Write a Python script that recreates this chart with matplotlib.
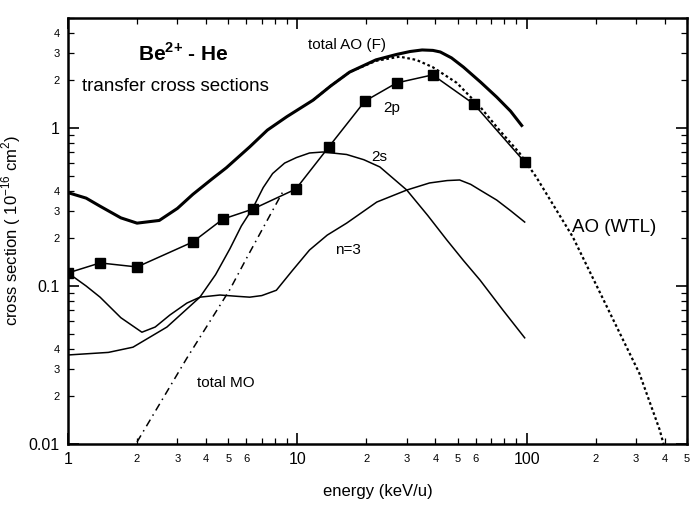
import math
import matplotlib
matplotlib.use("Agg")
import matplotlib.pyplot as plt
from matplotlib.ticker import FixedLocator, FuncFormatter

plt.rcParams['font.family'] = ['Liberation Sans', 'DejaVu Sans']
plt.rcParams['mathtext.fontset'] = 'custom'
plt.rcParams['mathtext.rm'] = 'Liberation Sans'
plt.rcParams['mathtext.bf'] = 'Liberation Sans:bold'

# 2p (squares joined by line)
energy_2p = [1.0, 1.38, 2.0, 3.5, 4.73, 6.4, 9.85, 13.7, 19.7, 27.1, 38.9, 58.8, 98]
sigma_2p = [0.121, 0.140, 0.132, 0.190, 0.265, 0.307, 0.411, 0.758, 1.48, 1.93, 2.17, 1.42, 0.609]

# total AO (F), thick line
energy_aof = [1.0, 1.2, 1.38, 1.7, 2.0, 2.5, 3.0, 3.5, 4.2, 4.9, 6.2, 7.4, 9.0, 11.7, 14, 16.9,
              22, 27, 31, 35, 39, 42, 47, 53, 63, 74, 85, 96]
sigma_aof = [0.39, 0.36, 0.32, 0.27, 0.25, 0.26, 0.31, 0.38, 0.47, 0.56, 0.76, 0.97, 1.18, 1.50, 1.85, 2.26,
             2.70, 2.92, 3.05, 3.12, 3.10, 3.03, 2.78, 2.43, 1.95, 1.57, 1.28, 1.02]

# AO (WTL), dotted
energy_wtl = [11.7, 14, 16.9, 22, 27.9, 33, 38.9, 49.6, 62.7, 76, 93, 110, 159, 224, 310, 380, 395]
sigma_wtl = [1.50, 1.85, 2.26, 2.66, 2.83, 2.70, 2.43, 1.93, 1.36, 0.97, 0.695, 0.49, 0.204, 0.0736, 0.028, 0.0123, 0.010]

# 2s
energy_2s = [1.0, 1.5, 1.92, 2.7, 3.76, 4.4, 5.08, 5.7, 6.4, 7.1, 7.8, 8.8, 9.9, 11.3, 12.9, 16.4,
             19.5, 22.9, 30, 37, 44.8, 53, 62.6, 79, 98]
sigma_2s = [0.0366, 0.038, 0.041, 0.055, 0.085, 0.118, 0.172, 0.24, 0.312, 0.42, 0.515, 0.60, 0.650, 0.695, 0.705, 0.68,
            0.63, 0.567, 0.405, 0.28, 0.196, 0.145, 0.109, 0.070, 0.047]

# n=3
energy_n3 = [1.0, 1.2, 1.38, 1.7, 2.1, 2.4, 2.78, 3.3, 3.76, 4.6, 5.5, 6.2, 7.0, 8.1, 9.5, 11.3, 13.5,
             16.4, 22.2, 30, 37.7, 45, 51, 57, 62.6, 74, 85, 98]
sigma_n3 = [0.121, 0.100, 0.085, 0.063, 0.051, 0.055, 0.0655, 0.078, 0.085, 0.0877, 0.086, 0.085, 0.087, 0.094, 0.125,
            0.169, 0.21, 0.25, 0.34, 0.405, 0.449, 0.465, 0.469, 0.44, 0.405, 0.35, 0.30, 0.254]

# total MO, dash-dot
energy_mo = [2.0, 3.3, 5.08, 6.08, 8.6]
sigma_mo = [0.0103, 0.035, 0.095, 0.155, 0.39]

fig = plt.figure(figsize=(6.91, 5.05), dpi=100)
ax = fig.add_axes([68 / 691, 61 / 505, 619 / 691, 426.4 / 505])

ax.plot(energy_aof, sigma_aof, color='black', lw=2.2, solid_capstyle='butt')
ax.plot(energy_wtl, sigma_wtl, color='black', lw=1.6, linestyle=(0, (1.2, 1.2)))
ax.plot(energy_2p, sigma_2p, color='black', lw=1.1, marker='s', markersize=7.5)
ax.plot(energy_2s, sigma_2s, color='black', lw=1.1)
ax.plot(energy_n3, sigma_n3, color='black', lw=1.1)
ax.plot(energy_mo, sigma_mo, color='black', lw=1.1, linestyle=(0, (5, 3, 1, 3)))

ax.set_xscale('log')
ax.set_yscale('log')
ax.set_xlim(1, 500)
ax.set_ylim(0.01, 5)

x_major = [1, 10, 100]
x_minor = [m * d for d in (1, 10, 100) for m in range(2, 10) if m * d <= 500]
y_major = [0.01, 0.1, 1]
y_minor = [m * d for d in (0.01, 0.1, 1) for m in range(2, 10) if m * d <= 5]

ax.xaxis.set_major_locator(FixedLocator(x_major))
ax.xaxis.set_minor_locator(FixedLocator(x_minor))
ax.yaxis.set_major_locator(FixedLocator(y_major))
ax.yaxis.set_minor_locator(FixedLocator(y_minor))


def lead_digit(v):
    return round(v / 10 ** math.floor(math.log10(v) + 1e-9))


def x_major_fmt(v, pos):
    return '%g' % v


def x_minor_fmt(v, pos):
    d = lead_digit(v)
    return str(d) if d <= 6 else ''


def y_major_fmt(v, pos):
    return {0.01: '0.01', 0.1: '0.1', 1.0: '1'}.get(round(v, 3), '')


def y_minor_fmt(v, pos):
    d = lead_digit(v)
    return str(d) if d <= 4 else ''


ax.xaxis.set_major_formatter(FuncFormatter(x_major_fmt))
ax.xaxis.set_minor_formatter(FuncFormatter(x_minor_fmt))
ax.yaxis.set_major_formatter(FuncFormatter(y_major_fmt))
ax.yaxis.set_minor_formatter(FuncFormatter(y_minor_fmt))

ax.tick_params(which='both', direction='in', top=True, right=True, color='black')
ax.tick_params(which='major', length=8, width=1.2, labelsize=11.5, pad=6)
ax.tick_params(which='minor', length=4, width=0.9, labelsize=8, pad=6)
ax.tick_params(axis='x', which='minor', pad=7)
for side in ax.spines.values():
    side.set_linewidth(1.8)

ax.set_xlabel('energy (keV/u)', fontsize=12, labelpad=12)
ax.set_ylabel('cross section ( 10$^{-16}$ cm$^{2}$)', fontsize=12, labelpad=4)

ax.text(2.02, 2.98, r'Be$^{\mathbf{2{+}}}$ - He', fontsize=15, fontweight='bold', ha='left', va='center')
ax.text(1.15, 1.82, 'transfer cross sections', fontsize=13.5, ha='left', va='center')
ax.text(11.1, 3.35, 'total AO (F)', fontsize=11, ha='left', va='center')
ax.text(23.6, 1.34, '2p', fontsize=11, ha='left', va='center')
ax.text(21.1, 0.655, '2s', fontsize=11, ha='left', va='center')
ax.text(14.6, 0.169, 'n=3', fontsize=11, ha='left', va='center')
ax.text(157, 0.236, 'AO (WTL)', fontsize=13.5, ha='left', va='center')
ax.text(3.65, 0.0242, 'total MO', fontsize=11, ha='left', va='center')

fig.savefig('out.png', dpi=100)
